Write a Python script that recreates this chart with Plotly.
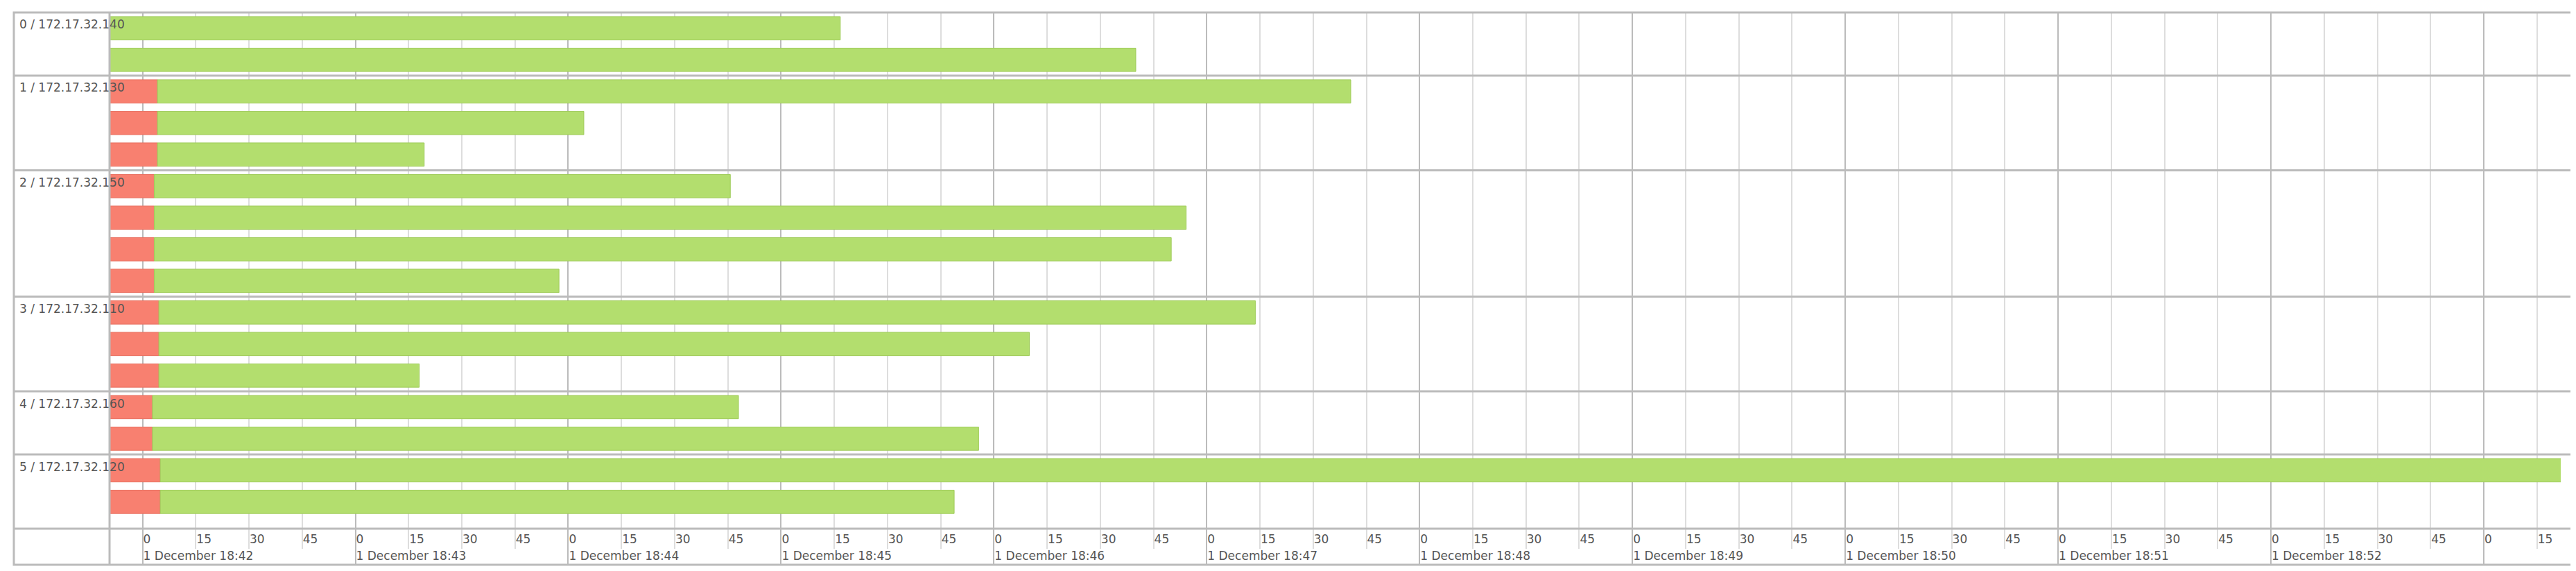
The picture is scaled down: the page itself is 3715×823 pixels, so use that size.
import plotly.graph_objects as go
from datetime import datetime, timedelta

groups = ["0 / 172.17.32.140", "1 / 172.17.32.130", "2 / 172.17.32.150",
          "3 / 172.17.32.110", "4 / 172.17.32.160", "5 / 172.17.32.120"]
# seconds relative to 1 December 18:42:00
red_end = [[None, None], [4.2, 4.2, 4.2], [3.3, 3.3, 3.3, 3.3],
           [4.6, 4.6, 4.6], [2.8, 2.8], [5.0, 5.0]]
bar_end = [[196.7, 280.0], [340.6, 124.4, 79.4], [165.7, 294.2, 290.0, 117.4],
           [313.7, 250.0, 78.0], [168.0, 235.7], [700.0, 228.8]]
start_s = -9.3
view_end_s = 681.7

t0 = datetime(2023, 12, 1, 18, 42, 0)
def ts(s):
    return (t0 + timedelta(seconds=s)).strftime("%Y-%m-%d %H:%M:%S.%f")[:-3]

L, R, T, B = 150, 30, 10, 69
W, H = 3715, 823
PW, PH = W - L - R, H - T - B

fig = go.Figure()
ys, rb, rx, gb, gx = [], [], [], [], []
slot = 0
bounds = [-0.5]
label_y = []
for gi, ends in enumerate(bar_end):
    label_y.append(slot - 0.5)
    for bi, e in enumerate(ends):
        r = red_end[gi][bi]
        if r is not None:
            ys.append(slot); rb.append(ts(start_s)); rx.append((r - start_s) * 1000)
            g0 = r
        else:
            g0 = start_s
        gb.append(ts(g0)); gx.append((e - g0) * 1000)
        slot += 1
    bounds.append(slot - 0.5)
green_y = list(range(slot))
bounds[-1] = 15.85

fig.add_trace(go.Bar(orientation="h", y=ys, x=rx, base=rb, width=0.74,
                     marker=dict(color="#F88070", line=dict(color="#E87060", width=1))))
fig.add_trace(go.Bar(orientation="h", y=green_y, x=gx, base=gb, width=0.74,
                     marker=dict(color="#B3DE6E", line=dict(color="#9FCB5A", width=1))))

rng = [ts(start_s), ts(view_end_s)]
fig.update_layout(
    width=W, height=H, showlegend=False, plot_bgcolor="white", paper_bgcolor="white",
    margin=dict(l=L, r=R, t=T, b=B), barmode="overlay",
    font=dict(family="DejaVu Sans", size=16, color="#555"),
    xaxis=dict(type="date", range=rng, tick0=ts(0), dtick=15000, tickformat="%-S",
               showgrid=True, gridcolor="#dddddd", gridwidth=2, ticks="outside", ticklen=28,
               tickcolor="#dddddd", tickwidth=2, ticklabelposition="outside right",
               zeroline=False, showline=False, tickfont=dict(size=17, color="#555")),
    xaxis2=dict(type="date", range=rng, overlaying="x", matches="x", side="bottom",
                anchor="y", tick0=ts(0), dtick=60000, tickformat="%-d %B %H:%M",
                showgrid=True, gridcolor="#bbbbbb", gridwidth=2, ticks="outside", ticklen=52,
                tickcolor="#bbbbbb", tickwidth=2, ticklabelposition="outside right",
                ticklabelstandoff=24, tickfont=dict(size=17, color="#555")),
    yaxis=dict(range=[15.85, -0.5], showgrid=False, showticklabels=False, zeroline=False),
)
fig.add_trace(go.Scatter(x=[ts(0)], y=[0], xaxis="x2", mode="markers",
                         marker=dict(opacity=0), hoverinfo="skip"))

xl = -138 / PW
xr = 1 + 20 / PW
yb = -52 / PH
line = dict(color="#bbbbbb", width=3)
shapes = []
for b in bounds[1:-1]:
    shapes.append(dict(type="line", xref="paper", x0=xl, x1=xr, yref="y", y0=b, y1=b, line=line))
shapes.append(dict(type="rect", xref="paper", yref="paper", x0=xl, x1=xr, y0=yb, y1=1.0, line=line))
shapes.append(dict(type="line", xref="paper", yref="paper", x0=0, x1=0, y0=yb, y1=1, line=line))
shapes.append(dict(type="line", xref="paper", yref="paper", x0=xl, x1=xr, y0=0, y1=0, line=line))
fig.update_layout(shapes=shapes)

for g, yv in zip(groups, label_y):
    fig.add_annotation(text=g, xref="paper", x=-132 / PW, xanchor="left", yref="y", y=yv + 0.12,
                       yanchor="top", showarrow=False, font=dict(size=17, color="#555"))

fig.write_html("out.html")
